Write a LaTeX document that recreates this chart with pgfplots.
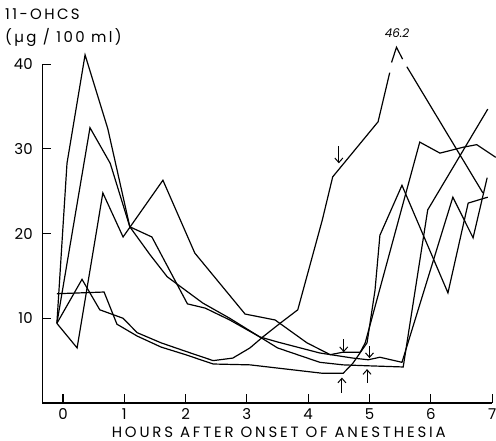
\documentclass[border=0pt]{standalone}
\usepackage{fontspec}
\setmainfont{Poppins}
\newfontfamily\lab[LetterSpace=19]{Poppins}
\newfontfamily\laby[LetterSpace=16]{Poppins}
\usepackage{pgfplots}
\pgfplotsset{compat=1.18}
\usetikzlibrary{arrows.meta}

\begin{document}
\begin{tikzpicture}
\begin{axis}[
  x=61.3bp, y=8.47bp,
  xmin=-0.34, xmax=7, ymin=0, ymax=40,
  axis x line=bottom, axis y line=left,
  axis line style={-, line width=1.1pt},
  clip=false,
  xtick={0,1,2,3,4,5,6,7}, ytick={10,20,30,40},
  tick align=inside,
  major tick length=9bp,
  tick style={line width=1.1pt, black},
  ticklabel style={font=\fontsize{15}{15}\selectfont},
  xticklabel style={yshift=-2bp},
  yticklabel style={xshift=-6bp},
  /pgf/number format/assume math mode=true,
  unbounded coords=jump,
  curve/.style={black, line width=1.2pt, mark=none, line join=miter},
]
% curve A (peak 41)
\addplot[curve] coordinates {(-0.10,9.4) (0.065,28.3) (0.36,41.1) (0.73,32.4) (1.09,20.8) (1.45,19.6) (2.03,11.7) (2.32,11.2) (2.72,9.8) (3.21,7.8) (3.5,7.2) (4.19,5.9) (4.73,5.3) (4.98,5.1) (5.17,5.4) (5.53,4.8) (6.36,24.3) (6.69,19.5) (6.92,26.6)};
% curve C (peak 32.5)
\addplot[curve] coordinates {(-0.10,9.4) (0.44,32.5) (0.77,28.3) (1.09,20.8) (1.42,17.5) (1.70,14.9) (2.28,11.8) (2.72,10.0) (3.21,7.8) (3.5,6.5) (4.19,4.8) (4.57,4.5) (4.93,4.4) (5.55,4.25) (5.95,22.8) (6.93,34.7)};
% curve D (peak 26)
\addplot[curve] coordinates {(-0.10,9.4) (0.23,6.5) (0.65,24.8) (0.98,19.6) (1.63,26.3) (2.15,17.7) (2.97,10.5) (3.46,9.8) (3.98,7.1) (4.36,5.7) (4.57,6.0) (4.85,6.0) (4.93,7.1) (5.82,30.8) (6.15,29.5) (6.53,30.2) (6.75,30.5) (7.06,29.0)};
% curve E1 (flat start 13)
\addplot[curve] coordinates {(-0.10,12.9) (0.67,13.1) (0.88,9.3) (1.21,7.9) (1.6,6.6) (2.0,5.7) (2.45,4.6) (3.05,4.5) (4.24,3.5) (4.57,3.5) (4.73,4.7) (4.96,7.1) (5.09,13.3) (5.17,19.8) (5.53,25.7) (6.28,13.0) (6.61,23.6) (6.93,24.3)};
% curve B (peak 46.2, drawn broken)
\addplot[curve] coordinates {(-0.10,9.4) (0.31,14.6) (0.60,11.0) (0.98,10.0) (1.21,8.3) (1.6,7.1) (2.0,6.1) (2.45,5.0) (2.77,5.3) (3.05,6.5) (3.26,7.8) (3.54,9.4) (3.83,11.0) (4.23,21.6) (4.40,26.7) (5.14,33.2) (5.33,39.0) (5.345,nan) (5.36,40.2) (5.44,42.0) (5.54,40.6) (5.575,nan) (5.61,39.7) (6.85,24.8)};

% arrows
\draw[line width=1pt, -{Straight Barb[length=4.5bp,width=8bp]}] (axis cs:4.50,30.3) -- (axis cs:4.50,28.3);
\draw[line width=1pt, -{Straight Barb[length=4.5bp,width=8bp]}] (axis cs:4.58,7.5) -- (axis cs:4.58,6.0);
\draw[line width=1pt, -{Straight Barb[length=4.5bp,width=8bp]}] (axis cs:5.00,6.7) -- (axis cs:5.00,5.3);
\draw[line width=1pt, -{Straight Barb[length=4.5bp,width=8bp]}] (axis cs:4.55,1.2) -- (axis cs:4.55,3.0);
\draw[line width=1pt, -{Straight Barb[length=4.5bp,width=8bp]}] (axis cs:4.96,2.4) -- (axis cs:4.96,4.0);

% labels
\node[anchor=center, inner sep=0, font=\fontsize{12}{12}\selectfont\itshape] at (axis cs:5.45,43.7) {46.2};
\node[anchor=north west, inner sep=0, font=\fontsize{15}{15}\selectfont\laby] at (axis cs:-0.946,46.6) {11-OHCS};
\node[anchor=north west, inner sep=0, font=\fontsize{15}{15}\selectfont\laby] at (axis cs:-0.946,44.3) {(µg / 100 ml)};
\node[anchor=base, inner sep=0, font=\fontsize{15}{15}\selectfont\lab] at (axis cs:3.52,-4.05) {HOURS AFTER ONSET OF ANESTHESIA};

\coordinate (bbtl) at (axis cs:-1.028,47.58);
\coordinate (bbbr) at (axis cs:7.064,-4.486);
\end{axis}
\pgfresetboundingbox
\path (bbtl) rectangle (bbbr);
\end{tikzpicture}
\end{document}
